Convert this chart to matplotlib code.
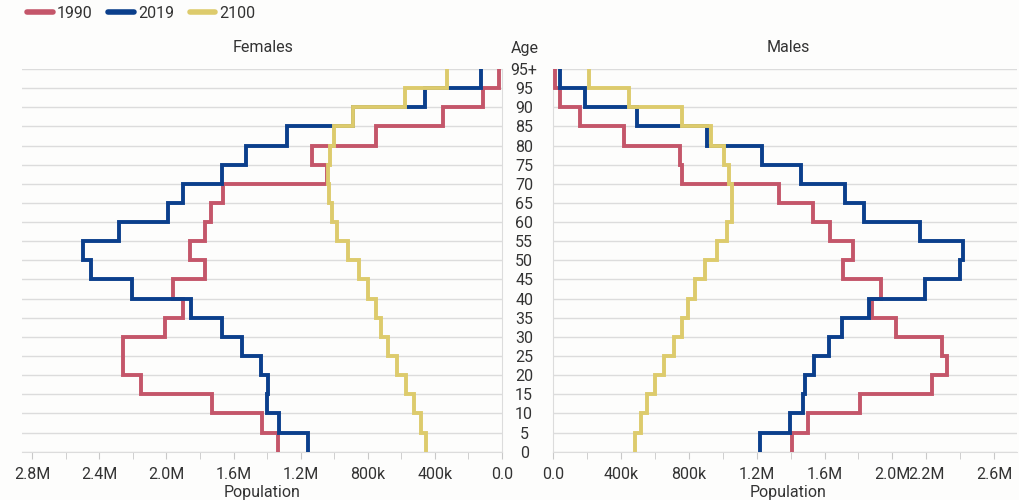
import numpy as np
import matplotlib.pyplot as plt

plt.rcParams['font.family'] = ['Roboto', 'DejaVu Sans']

# age groups, bottom to top (edges 0..20 on the y scale)
age_labels = ['0', '5', '10', '15', '20', '25', '30', '35', '40', '45', '50',
              '55', '60', '65', '70', '75', '80', '85', '90', '95', '95+']

# population per 5-year group, youngest first
fem_1990 = [1333e3, 1432e3, 1727e3, 2154e3, 2257e3, 2257e3, 2010e3, 1900e3, 1960e3, 1770e3,
            1860e3, 1770e3, 1737e3, 1663e3, 1043e3, 1133e3, 751e3, 352e3, 113e3, 18e3]
fem_2019 = [1155e3, 1328e3, 1400e3, 1395e3, 1437e3, 1548e3, 1671e3, 1856e3, 2208e3, 2452e3,
            2496e3, 2281e3, 1989e3, 1900e3, 1671e3, 1528e3, 1283e3, 888e3, 459e3, 125e3]
fem_2100 = [455e3, 485e3, 523e3, 572e3, 624e3, 681e3, 721e3, 753e3, 797e3, 852e3,
            920e3, 985e3, 1015e3, 1031e3, 1039e3, 1025e3, 1000e3, 886e3, 578e3, 326e3]

male_1990 = [1406e3, 1505e3, 1810e3, 2236e3, 2325e3, 2295e3, 2020e3, 1878e3, 1931e3, 1711e3,
             1766e3, 1632e3, 1534e3, 1333e3, 757e3, 747e3, 419e3, 157e3, 40e3, 10e3]
male_2019 = [1220e3, 1397e3, 1471e3, 1485e3, 1538e3, 1627e3, 1701e3, 1863e3, 2190e3, 2400e3,
             2415e3, 2160e3, 1835e3, 1721e3, 1461e3, 1229e3, 905e3, 492e3, 187e3, 40e3]
male_2100 = [482e3, 515e3, 551e3, 600e3, 655e3, 712e3, 757e3, 797e3, 836e3, 895e3,
             964e3, 1023e3, 1056e3, 1052e3, 1037e3, 1007e3, 930e3, 757e3, 447e3, 212e3]

years = ['1990', '2019', '2100']
colors = ['#C4566A', '#0B3F8C', '#DDCB6C']

fem_ticks = [2.8e6, 2.4e6, 2.0e6, 1.6e6, 1.2e6, 0.8e6, 0.4e6, 0]
fem_ticklabels = ['2.8M', '2.4M', '2.0M', '1.6M', '1.2M', '800k', '400k', '0.0']
male_ticks = [0, 0.4e6, 0.8e6, 1.2e6, 1.6e6, 2.0e6, 2.2e6, 2.6e6]
male_ticklabels = ['0.0', '400k', '800k', '1.2M', '1.6M', '2.0M', '2.2M', '2.6M']

W, H = 1019, 500
fig = plt.figure(figsize=(W / 100, H / 100), dpi=100)
fig.patch.set_facecolor('#FDFDFC')

ax_f = fig.add_axes([21.7 / W, 1 - 451.7 / H, (502 - 21.7) / W, (451.7 - 69) / H])
ax_m = fig.add_axes([553.3 / W, 1 - 451.7 / H, (1017 - 553.3) / W, (451.7 - 69) / H])

edges = np.arange(len(age_labels))
grid_c = '#DCDCDC'
text_c = '#333333'

for ax, series in [(ax_f, [fem_1990, fem_2019, fem_2100]),
                   (ax_m, [male_1990, male_2019, male_2100])]:
    ax.set_facecolor('none')
    for vals, col, yr in zip(series, colors, years):
        ax.stairs(vals, edges, orientation='horizontal', baseline=None,
                  color=col, linewidth=2.8, label=yr, clip_on=False, zorder=3)
    ax.set_ylim(0, 20)
    ax.set_yticks(edges)
    ax.grid(axis='y', color=grid_c, linewidth=1.0)
    ax.set_axisbelow(True)
    for s in ['top', 'left', 'right']:
        ax.spines[s].set_visible(False)
    ax.spines['bottom'].set_color(grid_c)
    ax.minorticks_on()
    ax.tick_params(axis='x', which='both', direction='out', length=5, color='#C8C8C8',
                   labelsize=11.5, labelcolor=text_c, pad=6)
    ax.tick_params(axis='y', which='both', length=0)

# females: reversed axis, spine on the age side
ax_f.set_xlim(2.863e6, 0)
ax_f.set_xticks(fem_ticks)
ax_f.set_xticklabels(fem_ticklabels)
ax_f.set_xticks(np.arange(0, 2.81e6, 2e5), minor=True)
ax_f.set_yticklabels([])
ax_f.spines['right'].set_visible(True)
ax_f.spines['right'].set_color(grid_c)

# males
ax_m.set_xlim(0, 2.735e6)
ax_m.set_xticks(male_ticks)
ax_m.set_xticklabels(male_ticklabels)
ax_m.set_xticks(np.arange(0, 2.61e6, 2e5), minor=True)
ax_m.spines['left'].set_visible(True)
ax_m.spines['left'].set_color(grid_c)
ax_m.set_yticklabels(age_labels)
ax_m.tick_params(axis='y', labelsize=11.5, labelcolor=text_c, pad=21)
for t in ax_m.get_yticklabels():
    t.set_horizontalalignment('center')

fig.text(263 / W, 1 - 48 / H, 'Females', ha='center', va='center', fontsize=11.5, color=text_c)
fig.text(788 / W, 1 - 48 / H, 'Males', ha='center', va='center', fontsize=11.5, color=text_c)
fig.text(525 / W, 1 - 48 / H, 'Age', ha='center', va='center', fontsize=11.5, color=text_c)
fig.text(262 / W, 1 - 492 / H, 'Population', ha='center', va='center', fontsize=11.5, color=text_c)
fig.text(788 / W, 1 - 492 / H, 'Population', ha='center', va='center', fontsize=11.5, color=text_c)

handles = [plt.Line2D([], [], color=c, linewidth=4, solid_capstyle='round') for c in colors]
fig.legend(handles, years, loc='center left', bbox_to_anchor=(27 / W, 1 - 13 / H),
           ncol=3, frameon=False, fontsize=11.5, handlelength=1.6, handletextpad=0.25,
           columnspacing=1.0, borderpad=0, borderaxespad=0, labelcolor=text_c)

fig.savefig('out.png', dpi=100, facecolor=fig.get_facecolor())
